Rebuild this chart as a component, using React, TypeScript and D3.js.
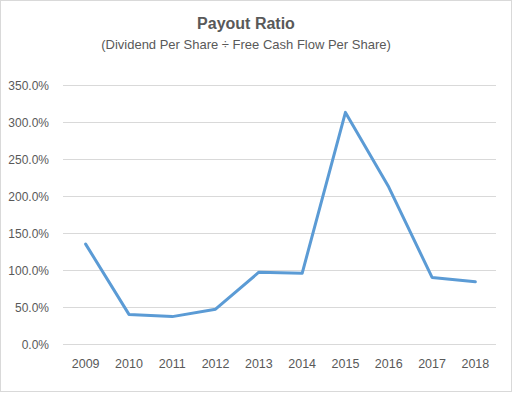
import { useEffect, useRef } from 'react';
import * as d3 from 'd3';

const years = ['2009', '2010', '2011', '2012', '2013', '2014', '2015', '2016', '2017', '2018'];
const payoutRatio = [1.35, 0.40, 0.37, 0.47, 0.97, 0.955, 3.13, 2.12, 0.90, 0.84];
const yTicks = [0, 0.5, 1, 1.5, 2, 2.5, 3, 3.5];

const title = 'Payout Ratio';
const subtitle = '(Dividend Per Share \u00f7 Free Cash Flow Per Share)';

export default function App() {
  const svgRef = useRef<SVGSVGElement>(null);

  useEffect(() => {
    if (!svgRef.current) return;
    const svg = d3.select(svgRef.current);
    svg.selectAll('*').remove();

    const width = 513;
    const height = 393;
    const font = '"Liberation Sans", Arial, sans-serif';
    const textColor = '#595959';

    // Chart area border
    svg
      .append('rect')
      .attr('x', 0.5)
      .attr('y', 0.5)
      .attr('width', width - 2)
      .attr('height', height - 2)
      .attr('fill', '#fff')
      .attr('stroke', '#d9d9d9');

    const plot = { left: 63, right: 496, top: 85, bottom: 344 };

    const xScale = d3
      .scaleBand<string>()
      .domain(years)
      .range([plot.left, plot.right])
      .padding(0);

    const yScale = d3.scaleLinear().domain([0, 3.5]).range([plot.bottom, plot.top]);

    // Titles
    svg
      .append('text')
      .attr('x', 246)
      .attr('y', 28.5)
      .attr('text-anchor', 'middle')
      .attr('font-family', font)
      .attr('font-weight', 'bold')
      .attr('font-size', 16)
      .attr('fill', textColor)
      .text(title);

    svg
      .append('text')
      .attr('x', 246)
      .attr('y', 49)
      .attr('text-anchor', 'middle')
      .attr('font-family', font)
      .attr('font-size', 13)
      .attr('fill', textColor)
      .text(subtitle);

    // Gridlines
    svg
      .append('g')
      .selectAll('line')
      .data(yTicks)
      .enter()
      .append('line')
      .attr('x1', plot.left)
      .attr('x2', plot.right)
      .attr('y1', (d) => Math.round(yScale(d)) + 0.5)
      .attr('y2', (d) => Math.round(yScale(d)) + 0.5)
      .attr('stroke', '#d9d9d9')
      .attr('stroke-width', 1);

    // Y labels
    const fmt = d3.format('.1%');
    svg
      .append('g')
      .selectAll('text')
      .data(yTicks)
      .enter()
      .append('text')
      .attr('x', 49)
      .attr('y', (d) => yScale(d) + 4.5)
      .attr('text-anchor', 'end')
      .attr('font-family', font)
      .attr('font-size', 12)
      .attr('fill', textColor)
      .text((d) => fmt(d));

    // X labels
    svg
      .append('g')
      .selectAll('text')
      .data(years)
      .enter()
      .append('text')
      .attr('x', (d) => (xScale(d) as number) + xScale.bandwidth() / 2 + 1)
      .attr('y', 368)
      .attr('text-anchor', 'middle')
      .attr('font-family', font)
      .attr('font-size', 12.5)
      .attr('fill', textColor)
      .text((d) => d);

    // Line
    const line = d3
      .line<number>()
      .x((_, i) => (xScale(years[i]) as number) + xScale.bandwidth() / 2 + 1)
      .y((d) => yScale(d));

    svg
      .append('path')
      .datum(payoutRatio)
      .attr('fill', 'none')
      .attr('stroke', '#5b9bd5')
      .attr('stroke-width', 3)
      .attr('stroke-linejoin', 'round')
      .attr('stroke-linecap', 'round')
      .attr('d', line);
  }, []);

  return (
    <svg
      ref={svgRef}
      width={513}
      height={393}
      style={{ position: 'fixed', left: 0, top: 0, background: '#fff' }}
    />
  );
}
